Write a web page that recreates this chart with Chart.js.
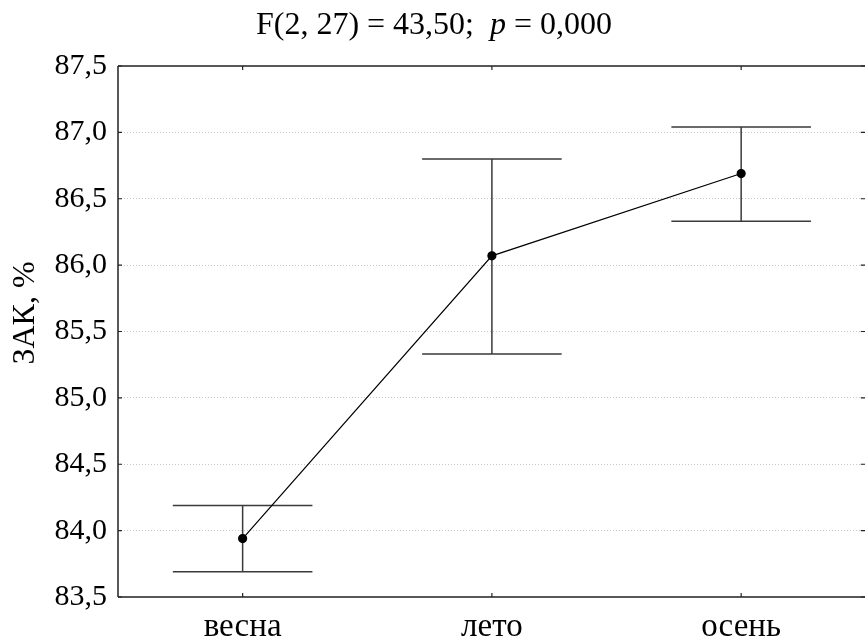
<!DOCTYPE html>
<html><head><meta charset="utf-8">
<script src="https://cdn.jsdelivr.net/npm/chart.js@4"></script>
<style>html,body{margin:0;padding:0;overflow:hidden;background:#fff}#wrap{width:871px;height:644px;position:relative}</style>
</head><body><div id="wrap"><canvas id="c"></canvas></div>
<script>
// ---- data ----
const categories = ['весна', 'лето', 'осень'];
const means = [83.94, 86.07, 86.69];
const upper = [84.19, 86.80, 87.04];
const lower = [83.69, 85.33, 86.33];
const yMin = 83.5;
const yMax = 87.5;
const yStep = 0.5;
const titleMain = 'F(2, 27) = 43,50;  ';
const titleItalic = 'p';
const titleEnd = ' = 0,000';
const yTitle = 'ЗАК, %';

const FONT = "'Liberation Serif', 'Times New Roman', serif";
const FS_TICK = 30;
const FS_X = 33;
const FS_TITLE = 32;

const errorBars = {
  id: 'errorBars',
  beforeDatasetsDraw(chart) {
    const {ctx, scales: {x, y}} = chart;
    const half = (x.getPixelForValue(1) - x.getPixelForValue(0)) * 0.28;
    ctx.save();
    ctx.strokeStyle = '#3a3a3a';
    ctx.lineWidth = 1.5;
    categories.forEach((c, i) => {
      const px = x.getPixelForValue(i);
      const yt = y.getPixelForValue(upper[i]);
      const yb = y.getPixelForValue(lower[i]);
      ctx.beginPath();
      ctx.moveTo(px, yt); ctx.lineTo(px, yb);
      ctx.moveTo(px - half, yt); ctx.lineTo(px + half, yt);
      ctx.moveTo(px - half, yb); ctx.lineTo(px + half, yb);
      ctx.stroke();
    });
    ctx.restore();
  }
};

const frame = {
  id: 'frame',
  afterDraw(chart) {
    const {ctx, chartArea: a, scales: {x, y}} = chart;
    ctx.save();
    ctx.strokeStyle = '#222';
    ctx.lineWidth = 1.5;
    ctx.beginPath();
    ctx.moveTo(a.left, a.top); ctx.lineTo(a.right, a.top);
    ctx.moveTo(a.left, a.bottom); ctx.lineTo(a.right, a.bottom);
    ctx.moveTo(a.left, a.top); ctx.lineTo(a.left, a.bottom);
    ctx.moveTo(a.right, a.top); ctx.lineTo(a.right, a.bottom);
    ctx.stroke();
    ctx.lineWidth = 1.2;
    ctx.beginPath();
    y.ticks.forEach(t => {
      const py = y.getPixelForValue(t.value);
      ctx.moveTo(a.left, py); ctx.lineTo(a.left + 4, py);
      ctx.moveTo(a.right, py); ctx.lineTo(a.right - 5, py);
    });
    x.ticks.forEach((t, i) => {
      const px = x.getPixelForValue(i);
      ctx.moveTo(px, a.top); ctx.lineTo(px, a.top + 4);
      ctx.moveTo(px, a.bottom); ctx.lineTo(px, a.bottom - 4);
    });
    ctx.stroke();
    // title with italic p
    ctx.fillStyle = '#000';
    ctx.textBaseline = 'alphabetic';
    ctx.textAlign = 'left';
    const fN = FS_TITLE + 'px ' + FONT;
    const fI = 'italic ' + FS_TITLE + 'px ' + FONT;
    ctx.font = fN; const w1 = ctx.measureText(titleMain).width;
    const w3 = ctx.measureText(titleEnd).width;
    ctx.font = fI; const w2 = ctx.measureText(titleItalic).width;
    const total = w1 + w2 + w3;
    const sx = 434 - total / 2;
    const by = 34;
    ctx.font = fN; ctx.fillText(titleMain, sx, by);
    ctx.font = fI; ctx.fillText(titleItalic, sx + w1, by);
    ctx.font = fN; ctx.fillText(titleEnd, sx + w1 + w2, by);
    // y axis title
    ctx.translate(26, 313);
    ctx.rotate(-Math.PI / 2);
    ctx.textAlign = 'center';
    ctx.textBaseline = 'middle';
    ctx.font = fN;
    ctx.fillText(yTitle, 0, 0);
    ctx.restore();
  }
};

new Chart(document.getElementById('c'), {
  type: 'line',
  data: {
    labels: categories,
    datasets: [{
      data: means,
      borderColor: '#000',
      borderWidth: 1.2,
      pointBackgroundColor: '#000',
      pointBorderColor: '#000',
      pointRadius: 4,
      tension: 0
    }]
  },
  options: {
    responsive: true,
    maintainAspectRatio: false,
    animation: false,
    devicePixelRatio: 1,
    layout: {padding: {top: 66, left: 0, right: 1, bottom: 0}},
    plugins: {legend: {display: false}, tooltip: {enabled: false}, title: {display: false}},
    scales: {
      x: {
        type: 'category',
        offset: true,
        border: {display: false},
        grid: {display: false},
        ticks: {color: '#000', font: {family: FONT, size: FS_X}, padding: 3, maxRotation: 0},
        afterFit(s) { s.height = 47; }
      },
      y: {
        min: yMin, max: yMax,
        border: {display: false, dash: [1, 2]},
        grid: {
          drawTicks: false,
          color: ctx => (ctx.tick && (ctx.tick.value === yMin || ctx.tick.value === yMax)) ? 'rgba(0,0,0,0)' : '#c8c8c8',
          lineWidth: 1
        },
        ticks: {
          stepSize: yStep,
          color: '#000',
          font: {family: FONT, size: FS_TICK},
          padding: 11,
          callback: v => Number(v).toFixed(1).replace('.', ',')
        },
        afterFit(s) { s.width = 118; }
      }
    }
  },
  plugins: [errorBars, frame]
});
</script>
</body></html>
